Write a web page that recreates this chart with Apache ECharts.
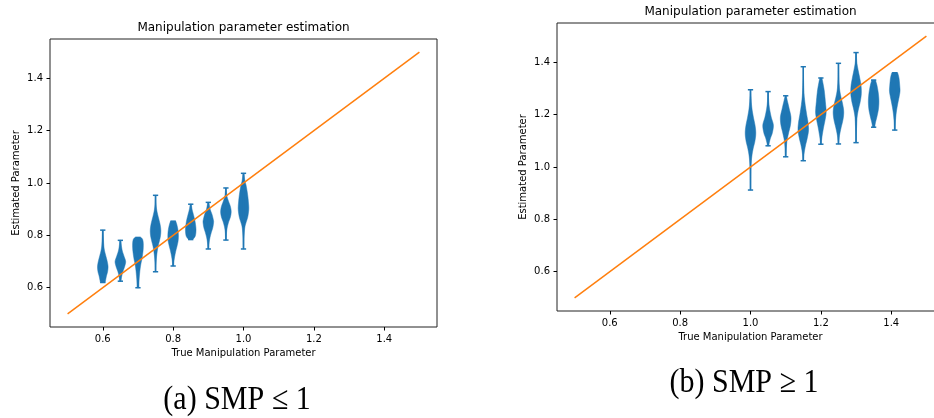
<!DOCTYPE html>
<html>
<head>
<meta charset="utf-8">
<script src="https://cdn.jsdelivr.net/npm/echarts@6/dist/echarts.min.js"></script>
<style>html,body{margin:0;padding:0;background:#fff;}#chart{width:934px;height:418px;}</style>
</head>
<body>
<div id="chart"></div>
<script>
// ---- data ----
const TITLE = 'Manipulation parameter estimation';
const X_NAME = 'True Manipulation Parameter';
const Y_NAME = 'Estimated Parameter';
const CAPTION_A = '(a) SMP \u2264 1';
const CAPTION_B = '(b) SMP \u2265 1';
const X_TICKS = [0.6, 0.8, 1.0, 1.2, 1.4];
const Y_TICKS = [0.6, 0.8, 1.0, 1.2, 1.4];
const DIAG_LINE = [[0.5, 0.5], [1.5, 1.5]];

// panel (a): positions and violin profiles [value, relative width], top -> bottom
const LEFT_POS = [0.6, 0.65, 0.7, 0.75, 0.8, 0.85, 0.9, 0.95, 1.0];
const LEFT_SHAPES = [
  [[0.82,0.08],[0.79,0.12],[0.76,0.2],[0.74,0.35],[0.72,0.6],[0.70,0.85],[0.68,1],[0.66,0.9],[0.645,0.7],[0.63,0.55],[0.62,0.45]],
  [[0.781,0.1],[0.76,0.2],[0.74,0.38],[0.72,0.7],[0.70,1],[0.68,0.8],[0.66,0.45],[0.64,0.22],[0.625,0.12]],
  [[0.792,0.55],[0.786,0.85],[0.772,1],[0.75,1],[0.73,0.9],[0.71,0.75],[0.69,0.55],[0.67,0.4],[0.65,0.3],[0.63,0.22],[0.61,0.18],[0.60,0.18]],
  [[0.953,0.05],[0.92,0.1],[0.90,0.2],[0.88,0.4],[0.86,0.65],[0.84,0.88],[0.82,1],[0.80,0.95],[0.78,0.75],[0.76,0.5],[0.74,0.33],[0.72,0.2],[0.70,0.12],[0.68,0.08],[0.661,0.06]],
  [[0.854,0.5],[0.84,0.72],[0.82,0.92],[0.80,1],[0.78,0.95],[0.76,0.75],[0.74,0.5],[0.72,0.3],[0.70,0.15],[0.683,0.1]],
  [[0.919,0.1],[0.90,0.25],[0.88,0.5],[0.86,0.75],[0.84,0.92],[0.82,1],[0.80,0.9],[0.79,0.65],[0.784,0.35]],
  [[0.926,0.1],[0.90,0.35],[0.88,0.7],[0.86,0.95],[0.85,1],[0.83,0.85],[0.81,0.55],[0.79,0.3],[0.77,0.15],[0.748,0.08]],
  [[0.981,0.05],[0.95,0.2],[0.93,0.5],[0.91,0.85],[0.89,1],[0.87,0.85],[0.85,0.5],[0.83,0.25],[0.81,0.12],[0.782,0.07]],
  [[1.037,0.1],[1.01,0.25],[0.99,0.5],[0.96,0.75],[0.93,0.92],[0.90,1],[0.87,0.8],[0.85,0.5],[0.83,0.25],[0.80,0.12],[0.77,0.08],[0.748,0.06]]
];

// panel (b)
const RIGHT_POS = [1.0, 1.05, 1.1, 1.15, 1.2, 1.25, 1.3, 1.35, 1.41];
const RIGHT_SHAPES = [
  [[1.295,0.05],[1.25,0.15],[1.22,0.3],[1.19,0.55],[1.16,0.85],[1.13,1],[1.10,0.85],[1.07,0.5],[1.04,0.25],[1.01,0.12],[0.97,0.07],[0.912,0.05]],
  [[1.288,0.05],[1.25,0.12],[1.22,0.3],[1.19,0.6],[1.16,1],[1.13,0.8],[1.11,0.45],[1.09,0.2],[1.081,0.15]],
  [[1.272,0.1],[1.25,0.35],[1.22,0.7],[1.19,1],[1.16,0.9],[1.13,0.55],[1.10,0.25],[1.07,0.12],[1.039,0.08]],
  [[1.383,0.04],[1.33,0.06],[1.28,0.15],[1.24,0.35],[1.20,0.65],[1.17,0.9],[1.14,1],[1.11,0.75],[1.08,0.4],[1.05,0.15],[1.024,0.08]],
  [[1.34,0.2],[1.32,0.4],[1.29,0.65],[1.25,0.85],[1.21,1],[1.18,0.8],[1.15,0.5],[1.12,0.25],[1.10,0.12],[1.087,0.08]],
  [[1.396,0.04],[1.34,0.08],[1.30,0.2],[1.27,0.45],[1.24,0.8],[1.21,1],[1.18,0.85],[1.15,0.5],[1.12,0.2],[1.10,0.1],[1.088,0.06]],
  [[1.437,0.05],[1.40,0.15],[1.37,0.4],[1.34,0.7],[1.31,0.95],[1.28,1],[1.25,0.8],[1.22,0.45],[1.19,0.2],[1.15,0.1],[1.12,0.06],[1.093,0.05]],
  [[1.332,0.35],[1.31,0.65],[1.28,0.9],[1.25,1],[1.22,0.9],[1.19,0.6],[1.17,0.35],[1.152,0.2]],
  [[1.36,0.55],[1.34,0.8],[1.31,0.95],[1.29,1],[1.27,0.85],[1.24,0.55],[1.21,0.3],[1.18,0.15],[1.16,0.1],[1.141,0.08]]
];

// ---- rendering ----
const BLUE = '#1f77b4';
const ORANGE = '#ff7f0e';
const VIOLIN_WIDTH = 0.03;
const FONT = 'DejaVu Sans';

function catmull(pts, steps) {
  if (pts.length < 3) return pts;
  const out = [];
  for (let i = 0; i < pts.length - 1; i++) {
    const p0 = pts[Math.max(0, i - 1)], p1 = pts[i], p2 = pts[i + 1], p3 = pts[Math.min(pts.length - 1, i + 2)];
    for (let s = 0; s < steps; s++) {
      const t = s / steps, t2 = t * t, t3 = t2 * t;
      const f = (a, b, c, d) => 0.5 * ((2 * b) + (-a + c) * t + (2 * a - 5 * b + 4 * c - d) * t2 + (-a + 3 * b - 3 * c + d) * t3);
      out.push([f(p0[0], p1[0], p2[0], p3[0]), f(p0[1], p1[1], p2[1], p3[1])]);
    }
  }
  out.push(pts[pts.length - 1]);
  return out;
}

function makeRender(shapes) {
  return function (params, api) {
    const x = api.value(0);
    const prof = shapes[api.value(1)];
    const half = VIOLIN_WIDTH / 2;
    const right = catmull(prof.map(([v, w]) => api.coord([x + w * half, v])), 8);
    const left = catmull(prof.slice().reverse().map(([v, w]) => api.coord([x - w * half, v])), 8);
    const vmax = prof[0][0], vmin = prof[prof.length - 1][0];
    const top = api.coord([x, vmax]), bot = api.coord([x, vmin]);
    const capL = api.coord([x - VIOLIN_WIDTH * 0.25, vmax])[0];
    const capR = api.coord([x + VIOLIN_WIDTH * 0.25, vmax])[0];
    const lineStyle = { stroke: BLUE, lineWidth: 1.5 };
    return {
      type: 'group',
      children: [
        { type: 'polygon', shape: { points: right.concat(left) }, style: { fill: BLUE, stroke: BLUE, lineWidth: 0.5 } },
        { type: 'line', shape: { x1: top[0], y1: top[1], x2: bot[0], y2: bot[1] }, style: lineStyle },
        { type: 'line', shape: { x1: capL, y1: top[1], x2: capR, y2: top[1] }, style: lineStyle },
        { type: 'line', shape: { x1: capL, y1: bot[1], x2: capR, y2: bot[1] }, style: lineStyle }
      ]
    };
  };
}

const fmt = v => Number(v).toFixed(1);

function xAxis(gi) {
  return {
    type: 'value', gridIndex: gi, min: 0.45, max: 1.55,
    name: X_NAME, nameLocation: 'middle', nameGap: 21,
    nameTextStyle: { fontFamily: FONT, fontSize: 10, color: '#000' },
    axisLine: { show: false },
    axisTick: { show: true, inside: false, length: 3.5, customValues: X_TICKS, lineStyle: { color: '#000', width: 1 } },
    axisLabel: { show: true, margin: 7, customValues: X_TICKS, formatter: fmt, fontFamily: FONT, fontSize: 10, color: '#000' },
    splitLine: { show: false }
  };
}
function yAxis(gi) {
  return {
    type: 'value', gridIndex: gi, min: 0.45, max: 1.55,
    name: Y_NAME, nameLocation: 'middle', nameGap: 29, nameRotate: 90,
    nameTextStyle: { fontFamily: FONT, fontSize: 10, color: '#000' },
    axisLine: { show: false },
    axisTick: { show: true, inside: false, length: 3.5, customValues: Y_TICKS, lineStyle: { color: '#000', width: 1 } },
    axisLabel: { show: true, margin: 7, customValues: Y_TICKS, formatter: fmt, fontFamily: FONT, fontSize: 10, color: '#000' },
    splitLine: { show: false }
  };
}

const chart = echarts.init(document.getElementById('chart'), null, { renderer: 'canvas' });
chart.setOption({
  animation: false,
  backgroundColor: '#fff',
  grid: [
    { left: 50, top: 39, width: 387, height: 288, containLabel: false, outerBoundsMode: 'none', show: true, borderColor: '#222', borderWidth: 1, backgroundColor: 'transparent' },
    { left: 557, top: 23, width: 387, height: 288, containLabel: false, outerBoundsMode: 'none', show: true, borderColor: '#222', borderWidth: 1, backgroundColor: 'transparent' }
  ],
  xAxis: [xAxis(0), xAxis(1)],
  yAxis: [yAxis(0), yAxis(1)],
  series: [
    { type: 'line', xAxisIndex: 0, yAxisIndex: 0, data: DIAG_LINE, symbol: 'none', lineStyle: { color: ORANGE, width: 1.5 }, z: 3 },
    { type: 'custom', xAxisIndex: 0, yAxisIndex: 0, data: LEFT_POS.map((p, i) => [p, i]), renderItem: makeRender(LEFT_SHAPES), z: 2 },
    { type: 'line', xAxisIndex: 1, yAxisIndex: 1, data: DIAG_LINE, symbol: 'none', lineStyle: { color: ORANGE, width: 1.5 }, z: 3 },
    { type: 'custom', xAxisIndex: 1, yAxisIndex: 1, data: RIGHT_POS.map((p, i) => [p, i]), renderItem: makeRender(RIGHT_SHAPES), z: 2 }
  ],
  graphic: [
    { type: 'text', x: 243.5, y: 28, style: { text: TITLE, font: '12px "DejaVu Sans"', fill: '#000', align: 'center', verticalAlign: 'middle' } },
    { type: 'text', x: 750.5, y: 12, style: { text: TITLE, font: '12px "DejaVu Sans"', fill: '#000', align: 'center', verticalAlign: 'middle' } },
    { type: 'text', x: 237, y: 400, scaleY: 1.1, style: { text: CAPTION_A, font: '30px "Liberation Serif"', fill: '#000', align: 'center', verticalAlign: 'middle' } },
    { type: 'text', x: 744, y: 383, scaleY: 1.1, style: { text: CAPTION_B, font: '30px "Liberation Serif"', fill: '#000', align: 'center', verticalAlign: 'middle' } }
  ]
});
</script>
</body>
</html>
